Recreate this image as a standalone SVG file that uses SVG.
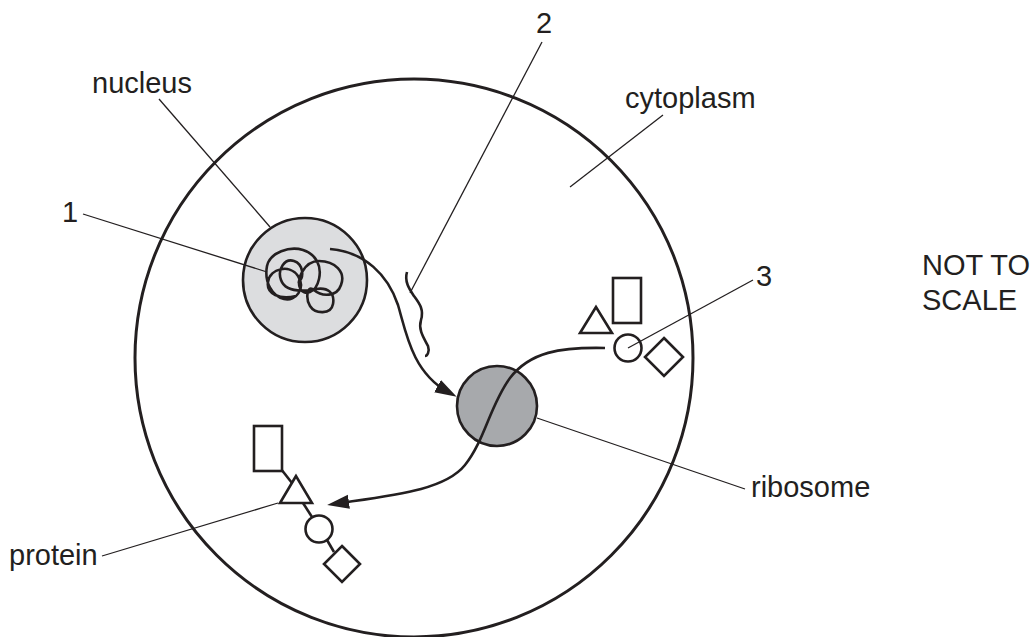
<svg xmlns="http://www.w3.org/2000/svg" width="1031" height="637" viewBox="0 0 1031 637">
<style>
text{font-family:"Liberation Sans",Arial,sans-serif;font-size:29px;fill:#231f20}
.lead{stroke:#231f20;stroke-width:1.3;fill:none}
.curve{stroke:#231f20;stroke-width:2.6;fill:none}
.shape{stroke:#231f20;stroke-width:2.6;fill:#fff}
</style>
<defs>
<marker id="ah" markerUnits="userSpaceOnUse" markerWidth="24" markerHeight="16" refX="12" refY="7" orient="auto">
<path d="M0,0 L22,7 L0,14 z" fill="#231f20"/>
</marker>
</defs>
<rect width="1031" height="637" fill="#fff"/>
<g id="cell"><circle cx="414" cy="358" r="279" fill="none" stroke="#231f20" stroke-width="3"/></g>
<g id="nucleus">
<circle cx="305" cy="280" r="62" fill="#dcdddf" stroke="#231f20" stroke-width="2.6"/>
<path class="curve" stroke-width="2.2" d="M296 296 C280 300,266 294,268 282 C270 268,290 264,298 276 C306 288,296 302,284 299 C272 296,264 282,267 266 C270 252,290 246,303 250 C316 254,322 266,319 279 C316 293,304 297,300 288 C296 280,304 261,319 261 C335 261,346 272,341 285 C337 297,322 297,314 290 C306 284,306 300,310 306 C315 314,331 315,333 304 C335 293,328 287,316 289 C300 292,285 291,281 280 C277 269,285 258,294 261 C303 264,305 277,298 283"/>
</g>
<g id="ribosome"><circle cx="497" cy="406" r="40" fill="#a7a9ac" stroke="#231f20" stroke-width="2.6"/></g>
<g id="mrna2"><path class="curve" stroke-width="2.2" d="M407 272 C404 282,410 290,414 296 C420 304,424 310,421 320 C418 330,424 338,428 346 C430 352,427 356,425 356"/></g>
<g id="aminoacids">
<rect class="shape" x="613" y="278" width="28" height="45"/>
<polygon class="shape" points="596,307 580,333 612,333"/>
<circle class="shape" cx="628" cy="348" r="13.5"/>
<polygon class="shape" points="664,338 683,357 664,376 645,357"/>
</g>
<g id="protein">
<line class="curve" x1="281" y1="469" x2="292" y2="483"/>
<line class="curve" x1="303" y1="503" x2="312" y2="517"/>
<line class="curve" x1="327" y1="540" x2="334" y2="552"/>
<rect class="shape" x="254" y="426" width="28" height="45"/>
<polygon class="shape" points="296,476 280,503 312,503"/>
<circle class="shape" cx="319" cy="529" r="13.5"/>
<polygon class="shape" points="342,546 360,564 342,582 324,564"/>
</g>
<g id="connectors">
<path class="curve" d="M330 249 C365 252,388 275,398 305 C406 332,412 372,448 392" marker-end="url(#ah)"/>
<path class="curve" d="M605 348 C560 347,530 352,510 378 C490 405,485 440,465 465 C445 490,395 495,337 503.5" marker-end="url(#ah)"/>
<line class="lead" x1="159" y1="99" x2="270" y2="227"/>
<line class="lead" x1="83" y1="214" x2="267" y2="272"/>
<line class="lead" x1="542" y1="42" x2="410" y2="293"/>
<line class="lead" x1="663" y1="115" x2="570" y2="187"/>
<line class="lead" x1="753" y1="280" x2="628" y2="348"/>
<line class="lead" x1="537" y1="418" x2="745" y2="489"/>
<line class="lead" x1="102" y1="556" x2="278" y2="503"/>
</g>
<g id="labels">
<text x="92" y="93">nucleus</text>
<text x="62" y="222">1</text>
<text x="536" y="33">2</text>
<text x="625" y="108">cytoplasm</text>
<text x="756" y="286">3</text>
<text x="751" y="497">ribosome</text>
<text x="9" y="565">protein</text>
<text x="922" y="275">NOT TO</text>
<text x="922" y="310">SCALE</text>
</g>
</svg>
